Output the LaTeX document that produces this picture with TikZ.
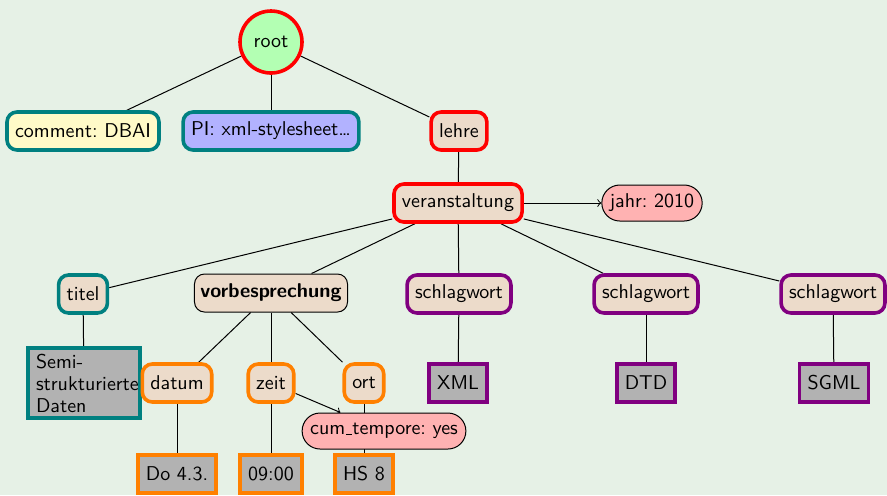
\documentclass[tikz,border=0pt]{standalone}
\usetikzlibrary{arrows}
\definecolor{bgc}{RGB}{230,241,230}
\definecolor{beige}{RGB}{236,219,202}
\definecolor{pinkc}{RGB}{255,178,178}
\definecolor{grayc}{RGB}{178,178,178}
\definecolor{greenc}{RGB}{179,255,179}
\definecolor{yellowc}{RGB}{255,250,200}
\definecolor{bluec}{RGB}{178,178,255}
\definecolor{tealc}{RGB}{0,128,128}
\definecolor{purplec}{RGB}{128,0,128}
\definecolor{orangec}{RGB}{255,128,0}
% short baseline underscore
\newcommand{\lowbar}{\leavevmode\kern.06em\vbox{\hrule width.3em}}
\pgfdeclarelayer{canvas}
\pgfdeclarelayer{edges}
\pgfsetlayers{canvas,edges,main}
\frenchspacing
\begin{document}
\begin{tikzpicture}[x=0.5pt,y=-0.5pt,font=\sffamily,
  elem/.style={rectangle,rounded corners=5pt,fill=beige,line width=1.8pt,
    minimum height=19pt,inner xsep=4pt,inner ysep=2pt},
  thinelem/.style={elem,draw=black,line width=0.5pt},
  attr/.style={rectangle,rounded corners=9pt,fill=pinkc,draw=black,line width=0.5pt,
    minimum height=18pt,inner xsep=4pt},
  txt/.style={rectangle,fill=grayc,line width=1.8pt,minimum height=19pt,inner xsep=4pt},
  link/.style={draw=black,line width=0.5pt},
  ref/.style={link,->}]
\begin{pgfonlayer}{canvas}
  \fill[bgc] (0,0) rectangle (887,495);
\end{pgfonlayer}
\useasboundingbox (0,0) rectangle (887,495);

% top level
\node[circle,fill=greenc,draw=red,line width=1.8pt,minimum size=31pt,inner sep=1pt] (root) at (271,42) {root};
\node[elem,fill=yellowc,draw=tealc] (comment) at (83,131) {comment: DBAI};
\node[elem,fill=bluec,draw=tealc] (pi) at (271,131) {PI: xml-stylesheet\dots};
\node[elem,draw=red] (lehre) at (459,131) {lehre};

% veranstaltung
\node[elem,draw=red] (veran) at (458,203) {veranstaltung};
\node[attr] (jahr) at (652,203) {jahr: 2010};

% children of veranstaltung
\node[elem,draw=tealc] (titel) at (83,294) {titel};
\node[thinelem,inner xsep=3pt] (vorb) at (271,293) {\bfseries vorbesprechung};
\node[elem,draw=purplec] (sw1) at (459,294) {schlagwort};
\node[elem,draw=purplec] (sw2) at (646,294) {schlagwort};
\node[elem,draw=purplec] (sw3) at (833,294) {schlagwort};

% third level
\node[txt,draw=tealc,align=left,text width=48pt,inner xsep=4pt,inner ysep=3pt,
  font=\sffamily\fontsize{10}{11}\selectfont] (semi) at (84,383)
  {Semi-\\strukturierte\\Daten};
\node[elem,draw=orangec] (datum) at (177,383) {datum};
\node[elem,draw=orangec] (zeit) at (271,383) {zeit};
\node[elem,draw=orangec] (ort) at (364,383) {ort};
\node[txt,draw=purplec] (xml) at (458,383) {XML};
\node[txt,draw=purplec] (dtd) at (646,383) {DTD};
\node[txt,draw=purplec] (sgml) at (834,383) {SGML};

% attribute of zeit and leaves
\node[attr] (cum) at (384,431) {cum\lowbar tempore: yes};
\node[txt,draw=orangec] (do) at (177,474) {Do 4.3.};
\node[txt,draw=orangec] (uhr) at (271,474) {09:00};
\node[txt,draw=orangec] (hs) at (364,474) {HS 8};

\begin{pgfonlayer}{edges}
  \draw[link] (root) -- (comment);
  \draw[link] (root) -- (pi);
  \draw[link] (root) -- (lehre);
  \draw[link] (lehre) -- (veran);
  \draw[ref] (veran) -- (jahr);
  \draw[link] (veran) -- (titel);
  \draw[link] (veran) -- (vorb);
  \draw[link] (veran) -- (sw1);
  \draw[link] (veran) -- (sw2);
  \draw[link] (veran) -- (sw3);
  \draw[link] (titel) -- (semi);
  \draw[link] (vorb) -- (datum);
  \draw[link] (vorb) -- (zeit);
  \draw[link] (vorb) -- (ort);
  \draw[link] (sw1) -- (xml);
  \draw[link] (sw2) -- (dtd);
  \draw[link] (sw3) -- (sgml);
  \draw[link] (datum) -- (do);
  \draw[link] (zeit) -- (uhr);
  \draw[link] (ort) -- (hs);
  \draw[ref] (zeit) -- (cum);
\end{pgfonlayer}
\end{tikzpicture}
\end{document}
